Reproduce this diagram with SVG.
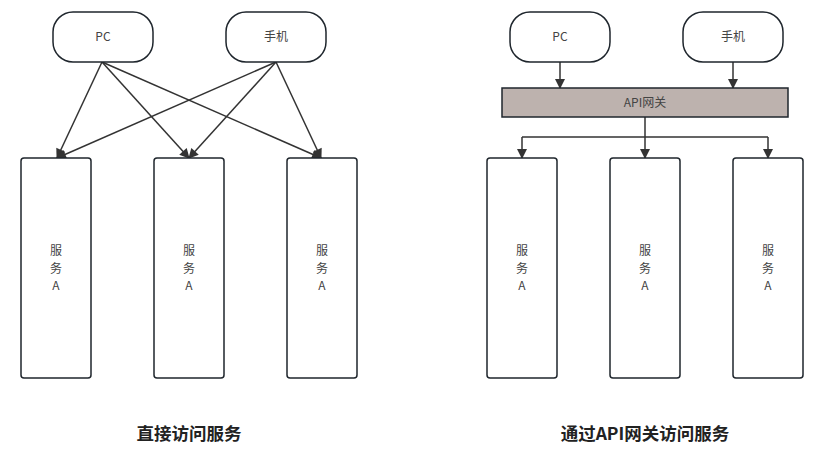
<svg xmlns="http://www.w3.org/2000/svg" width="822" height="453" viewBox="0 0 822 453">
<style>
.n{fill:#fff;stroke:#1f262d;stroke-width:1.5}
.t{font-family:"Noto Sans CJK SC","Noto Sans",sans-serif;font-size:12px;fill:#444;text-anchor:middle}
.h{font-family:"Noto Sans CJK SC",sans-serif;font-size:17.5px;font-weight:bold;fill:#222;text-anchor:middle}
.c{fill:none;stroke:#333;stroke-width:1.5}
</style>
<defs>
<marker id="a" viewBox="0 0 10 10" refX="9" refY="5" markerWidth="11" markerHeight="10" markerUnits="userSpaceOnUse" orient="auto"><path d="M0,0L10,5L0,10z" fill="#333"/></marker>
</defs>
<rect width="822" height="453" fill="#fff"/>
<g id="connectors">
<path class="c" marker-end="url(#a)" d="M102,62L57,158"/>
<path class="c" marker-end="url(#a)" d="M102,62L189,158"/>
<path class="c" marker-end="url(#a)" d="M102,62L321,158"/>
<path class="c" marker-end="url(#a)" d="M276,62L57,158"/>
<path class="c" marker-end="url(#a)" d="M276,62L189,158"/>
<path class="c" marker-end="url(#a)" d="M276,62L321,158"/>
<path class="c" marker-end="url(#a)" d="M560,62L560,88"/>
<path class="c" marker-end="url(#a)" d="M733,62L733,88"/>
<path class="c" d="M645,117L645,137M522,137L768,137"/>
<path class="c" marker-end="url(#a)" d="M522,137L522,158"/>
<path class="c" marker-end="url(#a)" d="M645,137L645,158"/>
<path class="c" marker-end="url(#a)" d="M768,137L768,158"/>
</g>
<g id="pc1"><rect class="n" x="53" y="12" width="100" height="50" rx="20"/><text class="t" x="103" y="41">PC</text></g>
<g id="phone1"><rect class="n" x="226" y="12" width="100" height="50" rx="20"/><text class="t" x="276" y="41">手机</text></g>
<g id="pc2"><rect class="n" x="510" y="12" width="100" height="50" rx="20"/><text class="t" x="560" y="41">PC</text></g>
<g id="phone2"><rect class="n" x="683" y="12" width="100" height="50" rx="20"/><text class="t" x="733" y="41">手机</text></g>
<g id="gateway"><rect x="502" y="88" width="286" height="29" fill="#bdb2ae" stroke="#1f262d" stroke-width="1.5"/><text class="t" x="645" y="107">API网关</text></g>
<g id="s1"><rect class="n" x="21" y="158" width="70" height="220" rx="3"/><text class="t" x="56" y="255">服</text><text class="t" x="56" y="272.5">务</text><text class="t" x="56" y="290">A</text></g>
<g id="s2"><rect class="n" x="154" y="158" width="70" height="220" rx="3"/><text class="t" x="189" y="255">服</text><text class="t" x="189" y="272.5">务</text><text class="t" x="189" y="290">A</text></g>
<g id="s3"><rect class="n" x="287" y="158" width="70" height="220" rx="3"/><text class="t" x="322" y="255">服</text><text class="t" x="322" y="272.5">务</text><text class="t" x="322" y="290">A</text></g>
<g id="s4"><rect class="n" x="487" y="158" width="70" height="220" rx="3"/><text class="t" x="522" y="255">服</text><text class="t" x="522" y="272.5">务</text><text class="t" x="522" y="290">A</text></g>
<g id="s5"><rect class="n" x="610" y="158" width="70" height="220" rx="3"/><text class="t" x="645" y="255">服</text><text class="t" x="645" y="272.5">务</text><text class="t" x="645" y="290">A</text></g>
<g id="s6"><rect class="n" x="733" y="158" width="70" height="220" rx="3"/><text class="t" x="768" y="255">服</text><text class="t" x="768" y="272.5">务</text><text class="t" x="768" y="290">A</text></g>
<text class="h" x="189" y="440">直接访问服务</text>
<text class="h" x="645" y="440">通过API网关访问服务</text>
</svg>
